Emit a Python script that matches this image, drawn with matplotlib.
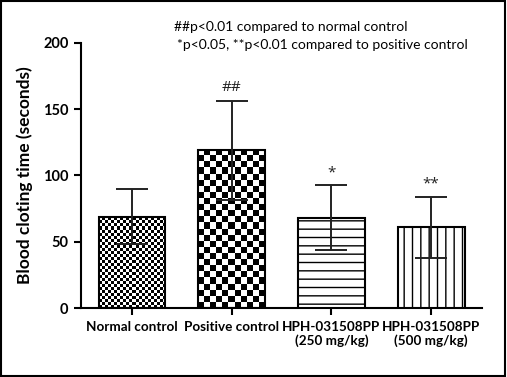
import numpy as np
import matplotlib.pyplot as plt
from matplotlib.patches import Rectangle

groups = ["Normal control", "Positive control", "HPH-031508PP\n(250 mg/kg)", "HPH-031508PP\n(500 mg/kg)"]
means = [69, 119, 68, 61]
sds = [20.5, 37.5, 24.5, 23]
marks = ["", "##", "*", "**"]
yticks = [0, 50, 100, 150, 200]

plt.rcParams['font.family'] = ['Lato', 'DejaVu Sans']
plt.rcParams['hatch.linewidth'] = 1.0

fig = plt.figure(figsize=(5.07, 3.77), dpi=100)
ax = fig.add_axes([0.16, 0.183, 0.7907, 0.703])

x = np.arange(len(groups))
width = 0.67
bars = ax.bar(x, means, width, color='white', edgecolor='black', linewidth=1.5, zorder=3)
bars[2].set_hatch('--')
bars[3].set_hatch('||')

# checkerboard fills, clipped to the bar outline
px_per_unit = 265 / 200
for i, cell_px in [(0, 3.0), (1, 6.1)]:
    b = bars[i]
    b.set_facecolor('none')
    nx = int(round(67 / cell_px))
    ny = int(np.ceil(means[i] * px_per_unit / cell_px)) + 1
    board = np.indices((ny, nx)).sum(0) % 2
    x0 = b.get_x()
    im = ax.imshow(board, cmap='gray', interpolation='nearest', aspect='auto',
                   extent=(x0, x0 + width, 0, ny * cell_px / px_per_unit),
                   origin='lower', zorder=2)
    im.set_clip_path(b)
ax.set_xlim(-0.51, 3.51)
ax.set_ylim(0, 200)

ax.errorbar(x, means, yerr=sds, fmt='none', ecolor='#222222', elinewidth=1.4,
            capsize=11.5, capthick=1.4, zorder=4)

for xi, m, s, t in zip(x, means, sds, marks):
    if t:
        ax.text(xi, m + s + 4, t, ha='center', va='bottom', fontsize=11,
                family='Open Sans', color='#222222')

ax.spines['top'].set_visible(False)
ax.spines['right'].set_visible(False)
ax.spines['left'].set_linewidth(1.5)
ax.spines['bottom'].set_linewidth(1.5)
ax.set_yticks(yticks)
ax.set_xticks(x)
ax.set_xticklabels(groups, fontweight='bold')
ax.tick_params(axis='both', width=1.5, length=5, pad=4)
ax.tick_params(axis='y', labelsize=10.5)
ax.tick_params(axis='x', labelsize=9.7)
for lab in ax.get_yticklabels():
    lab.set_fontweight('bold')
ax.set_ylabel("Blood cloting time (seconds)", fontweight='bold', fontsize=12.5, labelpad=7)

fig.text(0.343, 0.928, "##p<0.01 compared to normal control", fontsize=10, va='center')
fig.text(0.349, 0.881, "*p<0.05, **p<0.01 compared to positive control", fontsize=10, va='center')

fig.patches.append(Rectangle((0.002, 0.003), 0.995, 0.994, transform=fig.transFigure,
                             fill=False, edgecolor='black', linewidth=1.5))

fig.savefig("out.png", dpi=100)
